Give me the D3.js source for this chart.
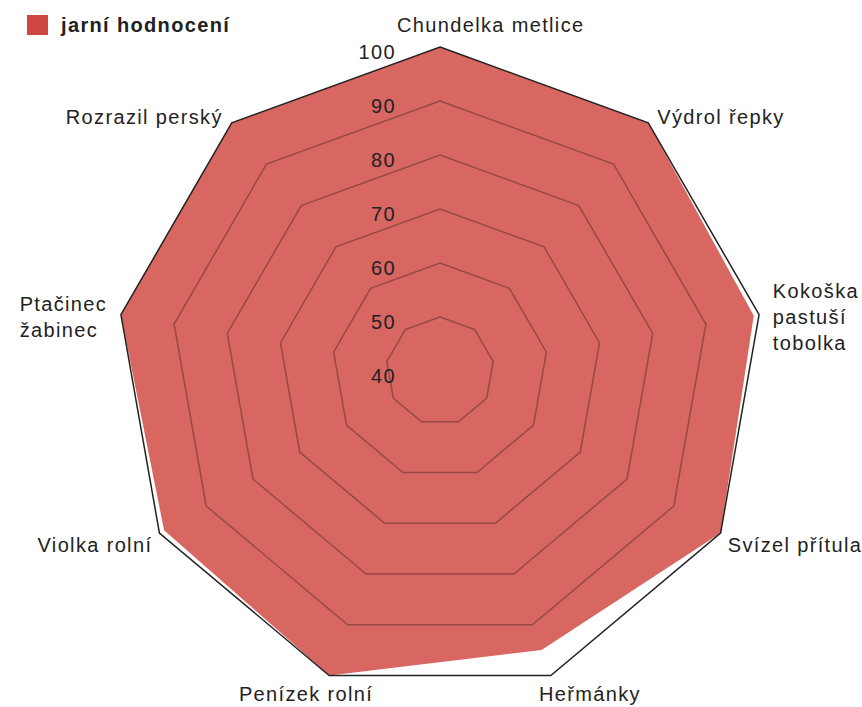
<!DOCTYPE html>
<html>
<head>
<meta charset="utf-8">
<title>jarní hodnocení</title>
<script src="https://cdn.jsdelivr.net/npm/d3@7"></script>
<style>
  body{margin:0;background:#fff;}
  text{font-family:"Liberation Sans",Arial,Helvetica,sans-serif;font-size:20px;fill:#222;letter-spacing:1.35px;}
  .legendText{font-weight:bold;}
  .ring{fill:none;stroke:#000;stroke-opacity:0.3;stroke-width:1.5px;}
  .ringOuter{fill:none;stroke:#222;stroke-width:1.5px;}
</style>
</head>
<body>
<script>
var width = 862, height = 707;

// data
var seriesName = "jarní hodnocení";
var weeds = ["Chundelka metlice", "Výdrol řepky", "Kokoška pastuší tobolka", "Svízel přítula",
             "Heřmánky", "Penízek rolní", "Violka rolní", "Ptačinec žabinec", "Rozrazil perský"];
var scores = [100, 100, 99, 100, 95, 100, 99, 100, 100];
var ticks = [40, 50, 60, 70, 80, 90, 100];

var color = "#cf4540";
var cx = 440, cy = 371, R = 324;

var svg = d3.select("body").append("svg")
    .attr("width", width)
    .attr("height", height);

var r = d3.scaleLinear().domain([40, 100]).range([0, R]);
var angle = d3.scaleLinear().domain([0, weeds.length]).range([0, 2 * Math.PI]);

var g = svg.append("g").attr("transform", "translate(" + cx + "," + cy + ")");

var radial = d3.lineRadial()
    .angle(function(d, i) { return angle(i); })
    .radius(function(d) { return r(d); })
    .curve(d3.curveLinearClosed);

// area
g.append("path")
    .datum(scores)
    .attr("d", radial)
    .style("fill", color)
    .style("fill-opacity", 0.82);

// rings on top
g.selectAll(".gridRing")
    .data(ticks.filter(function(t) { return t > 40; }))
    .enter()
    .append("path")
    .attr("class", function(t) { return t === 100 ? "ringOuter" : "ring"; })
    .attr("d", function(t) { return radial(weeds.map(function() { return t; })); });

// tick labels
var tickLabels = g.selectAll(".tickLabel")
    .data(ticks)
    .enter()
    .append("text")
    .attr("class", "tickLabel")
    .attr("x", -44)
    .attr("y", function(t) { return -r(t) + 5; })
    .attr("dy", "0.35em")
    .attr("text-anchor", "end")
    .text(function(t) { return t; });

var topTickBox = tickLabels.filter(function(t) { return t === 100; }).node().getBBox();

// axis labels
var pad = 14;
weeds.forEach(function(name, i) {
    var a = angle(i);
    var s = Math.sin(a), c = Math.cos(a);
    var px = (R + pad) * s, py = -(R + pad) * c + 5;
    var anchor, x = px;
    if (c < -0.9) { anchor = "middle"; x = 415 * s + 8; }
    else if (s > 0.1) anchor = "start";
    else if (s < -0.1) anchor = "end";
    else { anchor = "middle"; py -= 13; }
    if (c < -0.3 && c >= -0.9) x -= 5 * Math.sign(s);

    // room left before the page edge (a little overflow is tolerated)
    var room = anchor === "start" ? (width - cx - x + 8) : anchor === "end" ? (cx + x + 8) : Infinity;

    var t = g.append("text").attr("class", "axisLabel");
    // greedy wrap
    var words = name.split(" "), lines = [], line = [];
    var probe = t.append("tspan");
    words.forEach(function(w) {
        probe.text(line.concat([w]).join(" "));
        if (line.length && probe.node().getComputedTextLength() > room) {
            lines.push(line.join(" "));
            line = [w];
        } else line.push(w);
    });
    lines.push(line.join(" "));
    probe.remove();

    var lh = 26;
    var tspans = t.selectAll("tspan").data(lines).enter().append("tspan")
        .attr("dy", function(d, k) { return k === 0 ? (0.35 * 20 - (lines.length - 1) * lh / 2) : lh; })
        .text(function(d) { return d; });

    if (lines.length > 1 && anchor === "end") {
        // left aligned block ending at the anchor point
        var maxW = d3.max(tspans.nodes(), function(n) { return n.getComputedTextLength(); });
        anchor = "start";
        x = x - maxW;
    }
    t.attr("text-anchor", anchor).attr("y", py);
    tspans.attr("x", x);

    // keep the top label to the right of the "100" tick label
    if (anchor === "middle" && c > 0.9) {
        var b = t.node().getBBox();
        var edge = topTickBox.x + topTickBox.width + 1;
        if (b.x < edge) tspans.attr("x", x + (edge - b.x));
    }
});

// legend
var legend = svg.append("g").attr("transform", "translate(27,15)");
legend.append("rect")
    .attr("width", 21)
    .attr("height", 20)
    .style("fill", color);
legend.append("text")
    .attr("class", "legendText")
    .attr("x", 34)
    .attr("y", 10)
    .attr("dy", "0.35em")
    .text(seriesName);
</script>
</body>
</html>
